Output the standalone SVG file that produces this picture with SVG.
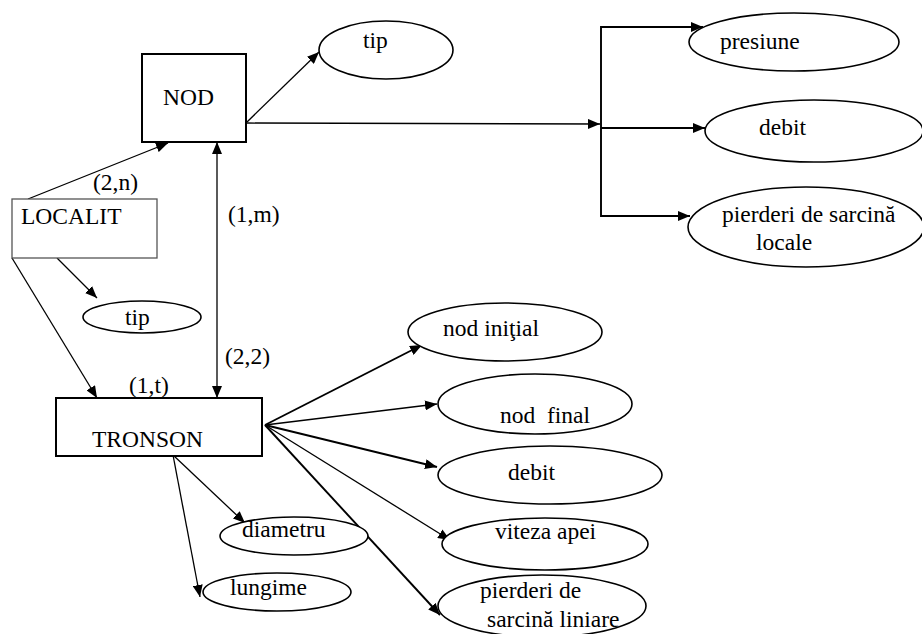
<svg xmlns="http://www.w3.org/2000/svg" width="922" height="634" viewBox="0 0 922 634">
  <style>
    text { font-family: "Liberation Serif", "Times New Roman", serif; font-size: 23.5px; fill: #000; }
    .box { fill: #fff; stroke: #000; stroke-width: 2; }
    .soft { fill: #fff; stroke: #555; stroke-width: 1.3; }
    .attr { fill: #fff; stroke: #000; stroke-width: 1.6; }
    .ln { fill: none; stroke: #000; stroke-width: 1.3; }
    .thick { stroke-width: 1.9; }
  </style>
  <defs>
    <marker id="arr" viewBox="0 0 12 10" refX="12" refY="5" markerWidth="12" markerHeight="10" markerUnits="userSpaceOnUse" orient="auto-start-reverse">
      <path d="M0,0 L12,5 L0,10 z" fill="#000"/>
    </marker>
  </defs>

  <rect width="922" height="634" fill="#fff"/>

  <!-- connectors -->
  <g id="connectors">
    <line class="ln" x1="247" y1="122" x2="319" y2="52" marker-end="url(#arr)"/>
    <line class="ln" x1="247" y1="123" x2="600" y2="124" marker-end="url(#arr)"/>
    <path class="ln thick" d="M601,128 V27 H703" marker-end="url(#arr)"/>
    <path class="ln thick" d="M601,128 V216 H690" marker-end="url(#arr)"/>
    <line class="ln thick" x1="601" y1="128" x2="705" y2="128" marker-end="url(#arr)"/>
    <line class="ln" x1="28" y1="199" x2="168" y2="143" marker-end="url(#arr)"/>
    <line class="ln" x1="57" y1="258" x2="97" y2="298" marker-end="url(#arr)"/>
    <line class="ln" x1="12" y1="258" x2="97" y2="398" marker-end="url(#arr)"/>
    <line class="ln" x1="217" y1="142" x2="217" y2="398" marker-start="url(#arr)" marker-end="url(#arr)"/>
    <line class="ln thick" x1="265" y1="425" x2="422" y2="345" marker-end="url(#arr)"/>
    <line class="ln" x1="265" y1="425" x2="437" y2="404" marker-end="url(#arr)"/>
    <line class="ln thick" x1="265" y1="425" x2="437" y2="467" marker-end="url(#arr)"/>
    <line class="ln" x1="265" y1="425" x2="450" y2="540" marker-end="url(#arr)"/>
    <line class="ln thick" x1="265" y1="425" x2="440" y2="615" marker-end="url(#arr)"/>
    <line class="ln" x1="173" y1="455" x2="245" y2="523" marker-end="url(#arr)"/>
    <line class="ln" x1="173" y1="455" x2="200" y2="597" marker-end="url(#arr)"/>
    <text x="93" y="190">(2,n)</text>
    <text x="228" y="222">(1,m)</text>
    <text x="225" y="364">(2,2)</text>
    <text x="129" y="393">(1,t)</text>
  </g>

  <!-- entities -->
  <g id="nod">
    <rect class="box" x="142" y="54" width="104" height="88"/>
    <text x="163" y="105">NOD</text>
  </g>
  <g id="localit">
    <rect class="soft" x="12" y="199" width="145" height="59"/>
    <text x="21" y="224">LOCALIT</text>
  </g>
  <g id="tronson">
    <rect class="box" x="56" y="398" width="206" height="58"/>
    <text x="92" y="447">TRONSON</text>
  </g>

  <!-- attributes -->
  <g id="nod-tip">
    <ellipse class="attr" cx="386" cy="50" rx="67" ry="29"/>
    <text x="363" y="48">tip</text>
  </g>
  <g id="presiune">
    <ellipse class="attr" cx="794" cy="42" rx="105" ry="29"/>
    <text x="720" y="49">presiune</text>
  </g>
  <g id="nod-debit">
    <ellipse class="attr" cx="814" cy="131" rx="109" ry="31"/>
    <text x="759" y="135">debit</text>
  </g>
  <g id="pierderi-locale">
    <ellipse class="attr" cx="806" cy="227" rx="118" ry="40"/>
    <text x="722" y="222">pierderi de sarcină</text>
    <text x="756" y="250">locale</text>
  </g>
  <g id="localit-tip">
    <ellipse class="attr" cx="142" cy="317" rx="59" ry="16"/>
    <text x="125" y="325">tip</text>
  </g>
  <g id="nod-initial">
    <ellipse class="attr" cx="505" cy="332" rx="97" ry="29"/>
    <text x="443" y="336">nod iniţial</text>
  </g>
  <g id="nod-final">
    <ellipse class="attr" cx="535" cy="404" rx="97" ry="30"/>
    <text x="500" y="423" xml:space="preserve">nod  final</text>
  </g>
  <g id="tronson-debit">
    <ellipse class="attr" cx="550" cy="475" rx="112" ry="29"/>
    <text x="508" y="480">debit</text>
  </g>
  <g id="viteza-apei">
    <ellipse class="attr" cx="545" cy="544" rx="103" ry="26"/>
    <text x="495" y="539">viteza apei</text>
  </g>
  <g id="pierderi-liniare">
    <ellipse class="attr" cx="542" cy="606" rx="104" ry="31"/>
    <text x="480" y="598">pierderi de</text>
    <text x="487" y="627">sarcină liniare</text>
  </g>
  <g id="diametru">
    <ellipse class="attr" cx="294" cy="536" rx="74" ry="19"/>
    <text x="242" y="537">diametru</text>
  </g>
  <g id="lungime">
    <ellipse class="attr" cx="277" cy="592" rx="74" ry="19"/>
    <text x="230" y="595">lungime</text>
  </g>
</svg>
